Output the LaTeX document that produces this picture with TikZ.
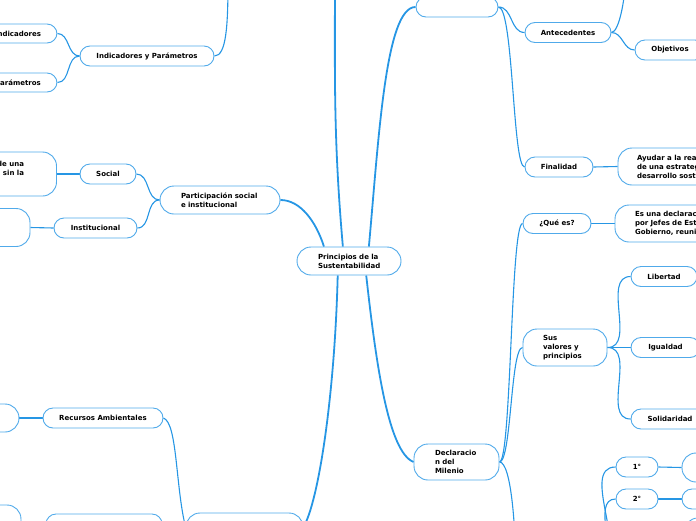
\documentclass[tikz,border=0pt]{standalone}
\usepackage{fontspec}
\setmainfont{DejaVu Sans}
\usepackage{xcolor}
\usepackage{tikz}
\usetikzlibrary{backgrounds}
\definecolor{lnk}{RGB}{38,150,228}
\definecolor{bord}{RGB}{80,170,234}

\begin{document}
\begin{tikzpicture}[x=1pt,y=1pt,
  topic/.style={draw=bord,line width=0.9pt,fill=white,rounded corners=10pt,
                minimum height=20pt,inner sep=0pt,align=center,
                font=\bfseries\fontsize{7}{9}\selectfont},
  bigtopic/.style={topic,rounded corners=14pt,align=left},
  br/.style={draw=lnk,line width=1.1pt},
  mainbr/.style={draw=lnk,line width=1.8pt}
]
\useasboundingbox (0,-520) rectangle (696,0);

\node[bigtopic,minimum width=104pt,minimum height=28pt,text width=62pt] (cen) at (349,-261) {Principios de la\\Sustentabilidad};

\node[topic,minimum width=134pt] (ip) at (147,-56) {Indicadores y Parámetros};
\node[topic,minimum width=78pt,minimum height=19pt] (ind) at (18,-33.5) {Indicadores};
\node[topic,minimum width=78pt,minimum height=19pt] (par) at (18,-82.5) {Parámetros};

\node[bigtopic,minimum width=120pt,minimum height=28pt,text width=78pt] (part) at (220,-200) {Participación social\\e institucional};
\node[topic,minimum width=56pt] (soc) at (108,-174) {Social};
\node[topic,minimum width=83pt] (inst) at (95.5,-228) {Institucional};
\node[bigtopic,minimum width=117pt,minimum height=44pt,text width=52pt,align=right] (socd) at (-2,-174) {de una\\sin la\\\strut};
\node[bigtopic,minimum width=90pt,minimum height=38pt] (instd) at (-15,-227.5) {};

\node[topic,minimum width=120pt] (ra) at (103,-418) {Recursos Ambientales};
\node[bigtopic,minimum width=79pt,minimum height=28pt] (rad) at (-20.5,-418) {};
\node[bigtopic,minimum width=81pt,minimum height=40pt] (bl) at (-19.5,-525) {};
\node[topic,minimum width=116pt] (bm) at (104,-524) {};
\node[bigtopic,minimum width=117pt,minimum height=28pt] (gest) at (244.5,-527) {};

\node[topic,minimum width=82pt] (top) at (457,-7) {};
\node[topic,minimum width=86pt] (ante) at (568,-32.5) {Antecedentes};
\node[topic,minimum width=70pt] (obj) at (670,-50) {Objetivos};
\node[topic,minimum width=68pt] (fin) at (559,-167) {Finalidad};
\node[bigtopic,minimum width=160pt,minimum height=37pt,text width=122pt] (find) at (698,-166.5) {Ayudar a la realización\\de una estrategia de\\desarrollo sostenible};

\node[bigtopic,minimum width=85pt,minimum height=36pt,text width=43pt] (decl) at (456.5,-462) {Declaracio\\n del\\Milenio};
\node[topic,minimum width=68pt] (que) at (557,-223.5) {¿Qué es?};
\node[bigtopic,minimum width=160pt,minimum height=37pt,text width=120pt] (qued) at (695,-223.5) {Es una declaración\\por Jefes de Estado y\\Gobierno, reunidos};
\node[bigtopic,minimum width=84pt,minimum height=37pt,text width=44pt] (sus) at (565,-347.5) {Sus\\valores y\\principios};
\node[topic,minimum width=66pt] (lib) at (664,-276.5) {Libertad};
\node[topic,minimum width=69pt] (igu) at (665.5,-347.5) {Igualdad};
\node[topic,minimum width=78pt] (sol) at (670,-419) {Solidaridad};
\node[topic,minimum width=42pt] (n1) at (637,-467) {1°};
\node[topic,minimum width=42pt] (n2) at (637,-499) {2°};
\node[bigtopic,minimum width=60pt,minimum height=29pt] (n1d) at (712,-467.5) {};
\node[topic,minimum width=60pt] (n2d) at (712,-499) {};
\node[bigtopic,minimum width=60pt,minimum height=28pt] (n3d) at (714,-532) {};

\coordinate (upc) at (335,40);
\coordinate (upip) at (228,20);
\coordinate (upante) at (626,30);
\coordinate (dwdecl) at (516,-580);
\coordinate (dwnum) at (596,-560);

\begin{scope}[on background layer]
\draw[mainbr] (cen.150) .. controls +(-8,25) and +(20,0) .. (part.east);
\draw[mainbr] (cen.113) to[out=95,in=-90] (upc);
\draw[mainbr] (cen.36) .. controls +(10,110) and +(-30,0) .. (top.west);
\draw[mainbr] (cen.-40) .. controls +(10,-90) and +(-25,10) .. (decl.west);
\draw[mainbr] (cen.-128) .. controls +(-3,-120) and +(15,25) .. (gest.east);

\draw[br] (ip.west) to[out=180,in=0] (ind.east);
\draw[br] (ip.west) to[out=180,in=0] (par.east);
\draw[br] (ip.east) .. controls +(12,0) and +(0,-45) .. (upip);
\draw[br] (part.west) to[out=180,in=0] (soc.east);
\draw[br] (part.west) to[out=180,in=0] (inst.east);
\draw[br] (soc.west) -- (socd.east);
\draw[br] (inst.west) -- (instd.east);
\draw[br] (ra.east) .. controls +(14,-5) and +(-10,40) .. (gest.west);
\draw[br] (ra.west) -- (rad.east);
\draw[br] (bm.east) to[out=0,in=180] (gest.west);
\draw[br] (bl.east) -- (bm.west);

\draw[br] (top.east) to[out=0,in=180] (ante.west);
\draw[br] (top.east) .. controls +(15,0) and +(-12,0) .. (fin.west);
\draw[br] (ante.east) to[out=0,in=180] (obj.west);
\draw[br] (ante.east) .. controls +(8,0) and +(0,-25) .. (upante);
\draw[br] (fin.east) -- (find.west);
\draw[br] (decl.east) .. controls +(12,0) and +(-12,0) .. (que.west);
\draw[br] (decl.east) .. controls +(12,0) and +(-12,0) .. (sus.west);
\draw[br] (decl.east) .. controls +(12,0) and +(0,50) .. (dwdecl);
\draw[br] (que.east) -- (qued.west);
\draw[br] (sus.east) to[out=0,in=180] (lib.west);
\draw[br] (sus.east) -- (igu.west);
\draw[br] (sus.east) to[out=0,in=180] (sol.west);
\draw[br] (dwnum) to[out=0,in=180] (n1.west);
\draw[br] (dwnum) to[out=0,in=180] (n2.west);
\draw[br] (n1.east) -- (n1d.west);
\draw[br] (n2.east) -- (n2d.west);
\end{scope}
\end{tikzpicture}
\end{document}
